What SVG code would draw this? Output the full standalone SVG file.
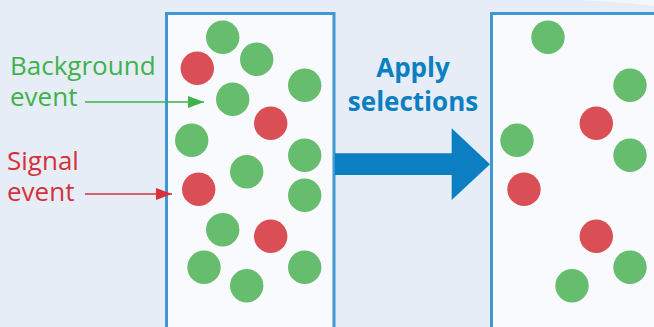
<svg xmlns="http://www.w3.org/2000/svg" width="654" height="327" viewBox="0 0 654 327">
  <defs>
    <style>
      .panel { fill: #f8fafd; stroke: #3d98d3; stroke-width: 3; }
      .bg-ev { fill: #66bd6e; }
      .sig-ev { fill: #d94f55; }
      .lbl { font-family: "Open Sans", "Noto Sans", "Liberation Sans", sans-serif; font-size: 26px; }
      .green { fill: #3fb24b; }
      .red { fill: #d8303a; }
      .title { font-family: "Open Sans", "Noto Sans", "Liberation Sans", sans-serif; font-size: 26px; font-weight: bold; fill: #0b7fc2; text-anchor: middle; }
    </style>
    <marker id="headGreen" viewBox="0 0 16 12" refX="16" refY="6" markerWidth="16" markerHeight="12" markerUnits="userSpaceOnUse" orient="auto">
      <path d="M0,0 L16,6 L0,12 Z" fill="#3fb24b"/>
    </marker>
    <marker id="headRed" viewBox="0 0 16 12" refX="16" refY="6" markerWidth="16" markerHeight="12" markerUnits="userSpaceOnUse" orient="auto">
      <path d="M0,0 L16,6 L0,12 Z" fill="#d8303a"/>
    </marker>
  </defs>

  <!-- backdrop -->
  <rect x="0" y="0" width="654" height="327" fill="#e6edf7"/>
  <path d="M580,0 Q620,2 654,6 L654,0 Z" fill="#f3f6fb"/>

  <!-- sample before selections -->
  <g id="sample-before">
    <rect class="panel" x="166.5" y="13.5" width="167.5" height="330"/>
    <circle class="bg-ev" cx="222.7" cy="37.3" r="16.7"/>
    <circle class="sig-ev" cx="197.3" cy="68.3" r="16.7"/>
    <circle class="bg-ev" cx="256.7" cy="59.3" r="16.7"/>
    <circle class="bg-ev" cx="304.7" cy="85.3" r="16.7"/>
    <circle class="bg-ev" cx="232.7" cy="99.3" r="16.7"/>
    <circle class="sig-ev" cx="270.7" cy="123.3" r="16.7"/>
    <circle class="bg-ev" cx="191.7" cy="140.3" r="16.7"/>
    <circle class="bg-ev" cx="304.7" cy="155.3" r="16.7"/>
    <circle class="bg-ev" cx="246.7" cy="171.7" r="16.7"/>
    <circle class="sig-ev" cx="198.7" cy="189.3" r="16.7"/>
    <circle class="bg-ev" cx="304.7" cy="195.3" r="16.7"/>
    <circle class="bg-ev" cx="222.7" cy="229.7" r="16.7"/>
    <circle class="sig-ev" cx="270.7" cy="236.3" r="16.7"/>
    <circle class="bg-ev" cx="204" cy="267.3" r="16.7"/>
    <circle class="bg-ev" cx="304.7" cy="267.3" r="16.7"/>
    <circle class="bg-ev" cx="246.7" cy="285.7" r="16.7"/>
  </g>

  <!-- sample after selections -->
  <g id="sample-after">
    <rect class="panel" x="491.5" y="13.5" width="180" height="330"/>
    <circle class="bg-ev" cx="548" cy="37.3" r="16.7"/>
    <circle class="bg-ev" cx="630" cy="85.3" r="16.7"/>
    <circle class="sig-ev" cx="596.3" cy="123.3" r="16.7"/>
    <circle class="bg-ev" cx="517" cy="140.3" r="16.7"/>
    <circle class="bg-ev" cx="630" cy="155.3" r="16.7"/>
    <circle class="sig-ev" cx="524" cy="189.3" r="16.7"/>
    <circle class="sig-ev" cx="596.3" cy="236.3" r="16.7"/>
    <circle class="bg-ev" cx="630" cy="267.3" r="16.7"/>
    <circle class="bg-ev" cx="572" cy="285.7" r="16.7"/>
  </g>

  <!-- legend labels -->
  <g id="label-background">
    <text class="lbl green" x="10" y="75">Background</text>
    <text class="lbl green" x="10" y="106">event</text>
  </g>
  <g id="label-signal">
    <text class="lbl red" x="7" y="170">Signal</text>
    <text class="lbl red" x="7" y="201">event</text>
  </g>

  <!-- selection step -->
  <g id="apply-selections">
    <text class="title" x="413" y="77">Apply</text>
    <text class="title" x="413" y="111">selections</text>
  </g>

  <g id="connectors">
    <line x1="85" y1="102" x2="204" y2="102" stroke="#3fb24b" stroke-width="1.6" marker-end="url(#headGreen)"/>
    <line x1="85" y1="194" x2="172" y2="194" stroke="#d8303a" stroke-width="1.6" marker-end="url(#headRed)"/>
    <path d="M335,153.3 L451.7,153.3 L451.7,128.3 L490,164.3 L451.7,200 L451.7,175 L335,175 Z" fill="#0b7fc2"/>
  </g>
</svg>
